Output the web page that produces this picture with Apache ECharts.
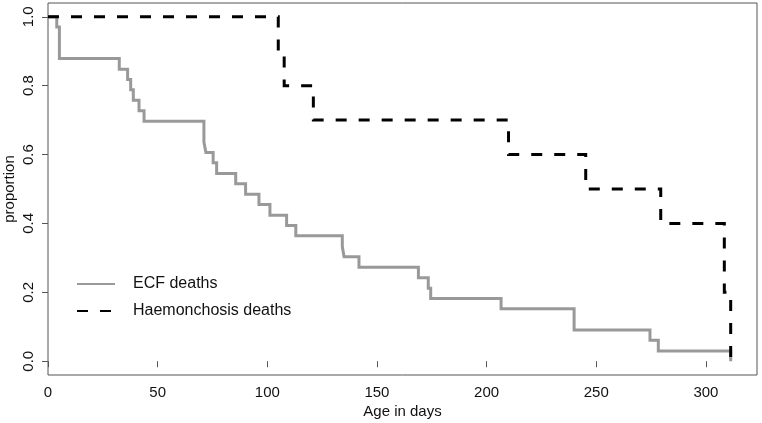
<!DOCTYPE html>
<html>
<head>
<meta charset="utf-8">
<script src="https://cdn.jsdelivr.net/npm/echarts@6/dist/echarts.min.js"></script>
<style>
html,body{margin:0;padding:0;background:#fff;}
#c{width:762px;height:423px;}
</style>
</head>
<body>
<div id="c"></div>
<script>
// ECF deaths (Kaplan-Meier, grey solid)
const ecfDays = [0, 4.0, 5.2, 32.5, 36.3, 37.7, 38.9, 41.5, 43.8, 71.1, 72.0, 75.3, 76.9, 85.6, 90.1, 96.2, 101.2, 108.8, 113.0, 134.2, 135.0, 141.8, 168.9, 173.4, 174.5, 206.6, 239.9, 274.5, 278.3, 311.3];
const ecfSurv = [1.0, 0.970, 0.879, 0.848, 0.818, 0.788, 0.758, 0.727, 0.697, 0.636, 0.606, 0.576, 0.545, 0.515, 0.485, 0.455, 0.424, 0.394, 0.364, 0.333, 0.303, 0.273, 0.242, 0.212, 0.182, 0.152, 0.091, 0.061, 0.030, 0.0];
// Haemonchosis deaths (black dashed)
const haemDays = [0, 105.0, 107.7, 121.0, 210.0, 245.2, 279.4, 308.4, 311.3];
const haemSurv = [1.0, 0.9, 0.8, 0.7, 0.6, 0.5, 0.4, 0.2, 0.0];
// tick labels
const xTicks = [0, 50, 100, 150, 200, 250, 300];
const yTicks = [0, 0.2, 0.4, 0.6, 0.8, 1.0];
const seriesNames = ['ECF deaths', 'Haemonchosis deaths'];

const FONT = '"Liberation Sans", Arial, Helvetica, sans-serif';
const chart = echarts.init(document.getElementById('c'), null, {renderer: 'canvas'});
const ecfData = ecfDays.map((d, i) => [d, ecfSurv[i]]);
const haemData = haemDays.map((d, i) => [d, haemSurv[i]]);

chart.setOption({
  animation: false,
  backgroundColor: '#ffffff',
  textStyle: {fontFamily: FONT},
  grid: {left: 48, right: 5, top: 3, bottom: 48, show: true, borderColor: '#555', borderWidth: 1,
    containLabel: false, outerBoundsMode: 'none'},
  legend: {
    data: seriesNames,
    orient: 'vertical',
    left: 71,
    top: 271,
    itemWidth: 38,
    itemHeight: 14,
    itemGap: 11,
    itemStyle: {opacity: 0},
    textStyle: {fontSize: 16, color: '#111', fontFamily: FONT, padding: [0, 0, 0, 13]}
  },
  xAxis: {
    type: 'value',
    min: 0,
    max: 323.3,
    name: 'Age in days',
    nameLocation: 'middle',
    nameGap: 29,
    nameMoveOverlap: false,
    nameTextStyle: {fontSize: 15, color: '#111', fontFamily: FONT},
    axisLine: {show: false},
    splitLine: {show: false},
    axisTick: {show: true, length: 6, lineStyle: {color: '#555'}, customValues: xTicks},
    axisLabel: {fontSize: 15, color: '#111', margin: 10, fontFamily: FONT, customValues: xTicks}
  },
  yAxis: {
    type: 'value',
    min: -0.04,
    max: 1.04,
    name: 'proportion',
    nameLocation: 'middle',
    nameGap: 31,
    nameMoveOverlap: false,
    nameRotate: 90,
    nameTextStyle: {fontSize: 15, color: '#111', fontFamily: FONT},
    axisLine: {show: false},
    splitLine: {show: false},
    axisTick: {show: true, length: 6, lineStyle: {color: '#555'}, customValues: yTicks},
    axisLabel: {fontSize: 15, color: '#111', margin: 12, rotate: 90, fontFamily: FONT, customValues: yTicks,
      formatter: v => v.toFixed(1)}
  },
  series: [
    {
      name: seriesNames[0], type: 'line', step: 'end', data: ecfData,
      symbol: 'none', showSymbol: false, z: 2,
      lineStyle: {color: '#999999', width: 3, cap: 'butt', join: 'miter'},
      itemStyle: {color: '#999999'}
    },
    {
      name: seriesNames[1], type: 'line', step: 'end', data: haemData,
      symbol: 'none', showSymbol: false, z: 3,
      lineStyle: {color: '#000000', width: 3, type: [11, 12], cap: 'butt', join: 'miter'},
      itemStyle: {color: '#000000'}
    }
  ]
});
</script>
</body>
</html>
